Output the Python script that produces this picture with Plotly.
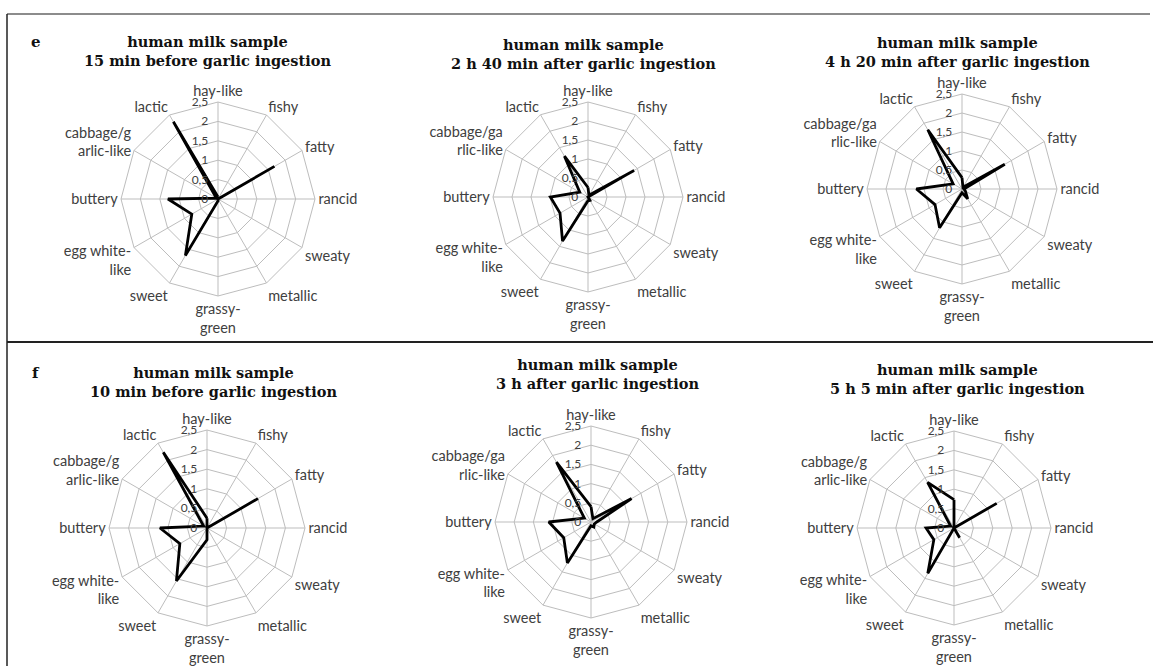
import plotly.graph_objects as go

# Odour attributes, clockwise from the top
attributes = ["hay-like", "fishy", "fatty", "rancid", "sweaty", "metallic",
              "grassy-green", "sweet", "egg white-like", "buttery",
              "cabbage/garlic-like", "lactic"]

# Wrapped label variants used on the individual charts
labels_a = ["hay-like", "fishy", "fatty", "rancid", "sweaty", "metallic",
            "grassy-<br>green", "sweet", "egg white-<br>like", "buttery",
            "cabbage/g<br>arlic-like", "lactic"]
labels_b = ["hay-like", "fishy", "fatty", "rancid", "sweaty", "metallic",
            "grassy-<br>green", "sweet", "egg white-<br>like", "buttery",
            "cabbage/ga<br>rlic-like", "lactic"]

# Mean intensity ratings per sample
e_15min_before = [0.05, 0.0, 1.68, 0.0, 0.0, 0.0, 0.05, 1.68, 0.78, 1.29, 0.05, 2.3]
e_2h40_after = [0.25, 0.05, 1.4, 0.0, 0.0, 0.1, 0.1, 1.34, 0.85, 0.99, 0.25, 1.24]
e_4h20_after = [0.3, 0.05, 1.3, 0.05, 0.1, 0.3, 0.1, 1.18, 0.82, 1.2, 0.27, 1.8]
f_10min_before = [0.25, 0.0, 1.5, 0.0, 0.0, 0.0, 0.3, 1.56, 0.8, 1.2, 0.1, 2.23]
f_3h_after = [0.4, 0.1, 1.22, 0.15, 0.1, 0.15, 0.1, 1.23, 0.82, 1.1, 0.2, 1.8]
f_5h5_after = [0.73, 0.0, 1.27, 0.0, 0.0, 0.29, 0.0, 1.35, 0.6, 0.72, 0.1, 1.36]

titles = [
    "human milk sample<br>15 min before garlic ingestion",
    "human milk sample<br>2 h 40 min after garlic ingestion",
    "human milk sample<br>4 h 20 min after garlic ingestion",
    "human milk sample<br>10 min before garlic ingestion",
    "human milk sample<br>3 h after garlic ingestion",
    "human milk sample<br>5 h 5 min after garlic ingestion",
]
series = [e_15min_before, e_2h40_after, e_4h20_after,
          f_10min_before, f_3h_after, f_5h5_after]
label_sets = [labels_a, labels_b, labels_b, labels_a, labels_b, labels_a]

radial_ticks = [0, 0.5, 1, 1.5, 2, 2.5]
radial_text = ["0", "0,5", "1", "1,5", "2", "2,5"]

W, H = 1153, 666
# chart centre (px) and outer radius (px)
centres = [(218, 199, 97), (588, 197, 95), (962, 189, 95),
           (207, 528, 98), (591, 522, 96), (954, 528, 97)]
title_pos = [(207, 51), (583, 54), (957, 52), (213, 382), (598, 374), (957, 379)]

GRID = "#bdbdbd"
TXT = "#404040"
LABEL_FONT = dict(family="Lato, Calibri, sans-serif", size=14.5, color=TXT)

fig = go.Figure()
layout_extra = {}
annotations = []
for i, (vals, labs) in enumerate(zip(series, label_sets)):
    key = "polar" if i == 0 else f"polar{i + 1}"
    fig.add_trace(go.Scatterpolar(
        r=vals + [vals[0]], theta=attributes + [attributes[0]],
        mode="lines", line=dict(color="black", width=2.8),
        subplot=key, showlegend=False, hoverinfo="skip"))
    cx, cy, R = centres[i]
    layout_extra[key] = dict(
        domain=dict(x=[(cx - R) / W, (cx + R) / W],
                    y=[(H - cy - R) / H, (H - cy + R) / H]),
        gridshape="linear", bgcolor="white",
        angularaxis=dict(direction="clockwise", rotation=90,
                         categoryorder="array", categoryarray=attributes,
                         tickvals=attributes, ticktext=labs,
                         tickfont=LABEL_FONT, linecolor=GRID, linewidth=1,
                         gridcolor=GRID, gridwidth=1, ticks="", showline=True),
        radialaxis=dict(range=[0, 2.5], tickvals=radial_ticks, ticktext=radial_text,
                        angle=90, tickangle=90, side="counterclockwise",
                        ticks="outside", ticklen=5, tickcolor="rgba(0,0,0,0)",
                        tickfont=dict(family="Lato, Calibri, sans-serif", size=12, color=TXT),
                        gridcolor=GRID, gridwidth=1, showline=False),
    )
    tx, ty = title_pos[i]
    annotations.append(dict(
        text="<b>" + titles[i] + "</b>", x=tx / W, y=1 - ty / H,
        xref="paper", yref="paper", xanchor="center", yanchor="middle",
        showarrow=False, align="center",
        font=dict(family="DejaVu Serif, serif", size=14.5, color="#111111")))

for letter, (lx, ly) in zip(["e", "f"], [(36, 42), (36, 373)]):
    annotations.append(dict(
        text="<b>" + letter + "</b>", x=lx / W, y=1 - ly / H,
        xref="paper", yref="paper", xanchor="center", yanchor="middle",
        showarrow=False, font=dict(family="DejaVu Serif, serif", size=15, color="#111111")))

shapes = [
    dict(type="line", xref="paper", yref="paper", x0=7 / W, x1=1150 / W,
         y0=1 - 14 / H, y1=1 - 14 / H, line=dict(color="#666666", width=1.5)),
    dict(type="line", xref="paper", yref="paper", x0=7 / W, x1=7 / W,
         y0=1 - 14 / H, y1=0, line=dict(color="#222222", width=1.5)),
    dict(type="line", xref="paper", yref="paper", x0=7 / W, x1=1,
         y0=1 - 342 / H, y1=1 - 342 / H, line=dict(color="#222222", width=2)),
]

fig.update_layout(width=W, height=H, margin=dict(l=0, r=0, t=0, b=0),
                  paper_bgcolor="white", plot_bgcolor="white",
                  annotations=annotations, shapes=shapes, **layout_extra)

fig.write_html("out.html")
